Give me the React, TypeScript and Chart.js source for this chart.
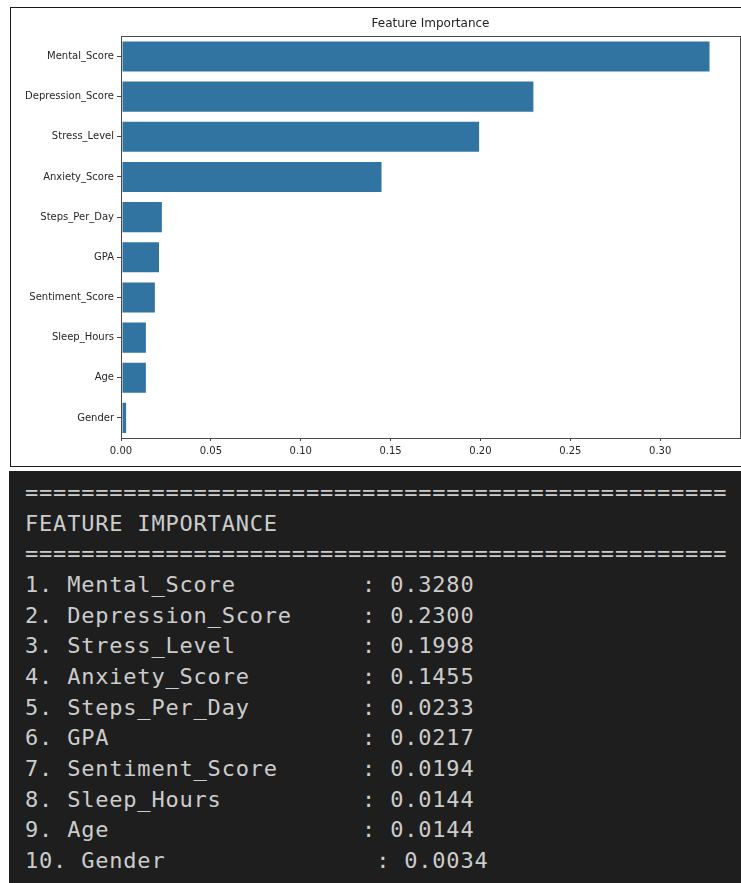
import React, { useEffect, useRef } from 'react';
import { Chart, registerables } from 'chart.js';

Chart.register(...registerables);

const chartTitle = 'Feature Importance';
const panelTitle = 'FEATURE IMPORTANCE';
const features = [
  'Mental_Score',
  'Depression_Score',
  'Stress_Level',
  'Anxiety_Score',
  'Steps_Per_Day',
  'GPA',
  'Sentiment_Score',
  'Sleep_Hours',
  'Age',
  'Gender',
];
const importance = [0.328, 0.23, 0.1998, 0.1455, 0.0233, 0.0217, 0.0194, 0.0144, 0.0144, 0.0034];
const xMax = 0.3444;
const xStep = 0.05;

export default function App() {
  const ref = useRef<HTMLCanvasElement>(null);

  useEffect(() => {
    if (!ref.current) return;
    const spines = {
      id: 'spines',
      afterDatasetsDraw(chart: any) {
        const { ctx, chartArea: a } = chart;
        const L = Math.round(a.left);
        const R = Math.round(a.right);
        const T = Math.round(a.top);
        const B = Math.round(a.bottom);
        ctx.save();
        ctx.strokeStyle = '#4a4a4a';
        ctx.lineWidth = 1;
        ctx.strokeRect(L + 0.5, T + 0.5, R - L, B - T);
        ctx.restore();
      },
    };
    const chart = new Chart(ref.current, {
      type: 'bar',
      data: {
        labels: features,
        datasets: [
          {
            data: importance,
            backgroundColor: '#3274a1',
            borderColor: 'rgba(255,255,255,0.45)',
            borderWidth: 1,
            borderSkipped: false,
            categoryPercentage: 0.8,
            barPercentage: 1.0,
          },
        ],
      },
      options: {
        indexAxis: 'y',
        animation: false,
        responsive: false,
        devicePixelRatio: 1,
        layout: { padding: { left: 0, right: 1, top: 0, bottom: 0 } },
        plugins: {
          legend: { display: false },
          tooltip: { enabled: false },
          title: {
            display: true,
            text: chartTitle,
            fullSize: false,
            color: '#222',
            font: { family: 'DejaVu Sans', size: 12, weight: 'normal' },
            padding: { top: 9, bottom: 5 },
          },
        },
        scales: {
          x: {
            type: 'linear',
            min: 0,
            max: xMax,
            afterFit: (s: any) => {
              s.height = 28;
            },
            border: { display: false },
            grid: { drawOnChartArea: false, drawTicks: true, tickLength: 3, color: '#444' },
            ticks: {
              stepSize: xStep,
              includeBounds: false,
              autoSkip: false,
              maxRotation: 0,
              padding: 4,
              color: '#262626',
              font: { family: 'DejaVu Sans', size: 10 },
              callback: (v: any) => Number(v).toFixed(2),
            },
          },
          y: {
            type: 'category',
            afterFit: (s: any) => {
              s.width = 110;
            },
            border: { display: false },
            grid: { drawOnChartArea: false, offset: false, drawTicks: true, tickLength: 4, color: '#444' },
            ticks: {
              autoSkip: false,
              padding: 3,
              color: '#262626',
              font: { family: 'DejaVu Sans', size: 10 },
            },
          },
        },
      },
      plugins: [spines],
    });
    return () => chart.destroy();
  }, []);

  const sep = '='.repeat(50);
  const lines = [
    sep,
    panelTitle,
    sep,
    ...features.map((f, i) => `${i + 1}. ${f.padEnd(20)} : ${importance[i].toFixed(4)}`),
  ];

  return (
    <div
      style={{
        position: 'absolute',
        left: 0,
        top: 0,
        width: 741,
        height: 883,
        overflow: 'hidden',
        background: '#ffffff',
      }}
    >
      <div
        style={{
          position: 'absolute',
          left: 10,
          top: 7,
          width: 800,
          height: 458,
          border: '1px solid #1a1a1a',
        }}
      />
      <canvas
        ref={ref}
        width={730}
        height={458}
        style={{ position: 'absolute', left: 11, top: 8, width: 730, height: 458 }}
      />
      <div
        style={{
          position: 'absolute',
          left: 9,
          top: 471,
          width: 732,
          height: 412,
          boxSizing: 'border-box',
          background: '#1e1e1e',
          padding: '7px 0 0 16px',
          fontFamily: '"DejaVu Sans Mono", monospace',
          fontSize: 22,
          letterSpacing: '0.8px',
          lineHeight: '30.67px',
          color: '#cccccc',
          whiteSpace: 'pre',
        }}
      >
        {lines.map((l, i) => (
          <div key={i}>{l}</div>
        ))}
      </div>
    </div>
  );
}
